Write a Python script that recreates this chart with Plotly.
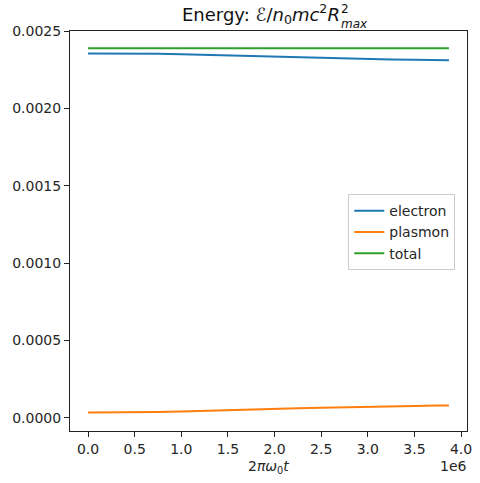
import plotly.graph_objects as go

# Time samples (2*pi*omega_0*t) and energy components
t = [0.0, 0.25e6, 0.5e6, 0.75e6, 1.0e6, 1.25e6, 1.5e6, 1.75e6, 2.0e6, 2.25e6,
     2.5e6, 2.75e6, 3.0e6, 3.25e6, 3.5e6, 3.75e6, 3.87e6]
electron = [0.002355, 0.002355, 0.002354, 0.002353, 0.002350, 0.002346, 0.002341,
            0.002337, 0.002333, 0.002330, 0.002326, 0.002322, 0.002319, 0.002316,
            0.002314, 0.002312, 0.002311]
plasmon = [0.000034, 0.000034, 0.000035, 0.000037, 0.000040, 0.000045, 0.000050,
           0.000054, 0.000058, 0.000062, 0.000065, 0.000069, 0.000072, 0.000075,
           0.000077, 0.000079, 0.000080]
total = [0.002388] * len(t)

x_ticks = [0.0, 0.5e6, 1.0e6, 1.5e6, 2.0e6, 2.5e6, 3.0e6, 3.5e6, 4.0e6]
x_tick_labels = ["0.0", "0.5", "1.0", "1.5", "2.0", "2.5", "3.0", "3.5", "4.0"]
y_ticks = [0.0, 0.0005, 0.0010, 0.0015, 0.0020, 0.0025]
y_tick_labels = ["0.0000", "0.0005", "0.0010", "0.0015", "0.0020", "0.0025"]

FONT = "DejaVu Sans"
AX = "#222222"
TXT = "#262626"

fig = go.Figure()
for name, y, color in [("electron", electron, "#1f77b4"),
                       ("plasmon", plasmon, "#ff7f0e"),
                       ("total", total, "#2ca02c")]:
    fig.add_trace(go.Scatter(x=t, y=y, mode="lines", name=name,
                             line=dict(color=color, width=2)))

axis_common = dict(showgrid=False, zeroline=False, showline=True, mirror=True,
                   linecolor=AX, linewidth=1, ticks="outside", ticklen=5,
                   tickwidth=1, tickcolor=AX,
                   tickfont=dict(family=FONT, size=14, color=TXT))

fig.update_xaxes(range=[-0.1935e6, 4.0635e6], tickvals=x_ticks,
                 ticktext=x_tick_labels, **axis_common)
fig.update_yaxes(range=[-0.0000853, 0.0025], tickvals=y_ticks,
                 ticktext=y_tick_labels, **axis_common)

annotations = [
    # title body
    dict(text="Energy: <i>ℰ</i>/<i>n</i><sub>0</sub><i>mc</i><sup>2</sup><i>R</i>",
         x=0.5, y=1.0, xref="paper", yref="paper", xanchor="center",
         yanchor="bottom", yshift=2, xshift=-8, showarrow=False,
         font=dict(family=FONT, size=18, color="#111111")),
    # stacked superscript / subscript on R
    dict(text="2", x=0.5, y=1.0, xref="paper", yref="paper",
         xanchor="left", yanchor="bottom", xshift=70, yshift=13,
         showarrow=False, font=dict(family=FONT, size=12, color="#111111")),
    dict(text="<i>max</i>", x=0.5, y=1.0, xref="paper", yref="paper",
         xanchor="left", yanchor="bottom", xshift=70, yshift=-2,
         showarrow=False, font=dict(family=FONT, size=12, color="#111111")),
    # x-axis label
    dict(text="2<i>π</i><i>ω</i><sub>0</sub><i>t</i>", x=0.5, y=0,
         xref="paper", yref="paper", xanchor="center", yanchor="top",
         yshift=-25, showarrow=False,
         font=dict(family=FONT, size=14, color=TXT)),
    # offset multiplier
    dict(text="1e6", x=1.0, y=0, xref="paper", yref="paper", xanchor="right",
         yanchor="top", yshift=-25, xshift=2, showarrow=False,
         font=dict(family=FONT, size=14, color=TXT)),
]

fig.update_layout(
    width=480, height=483,
    margin=dict(l=70, r=8, t=31, b=52),
    paper_bgcolor="white", plot_bgcolor="white",
    annotations=annotations,
    showlegend=True,
    legend=dict(x=0.701, y=0.592, xanchor="left", yanchor="top",
                bgcolor="rgba(255,255,255,0.8)", bordercolor="#cccccc",
                borderwidth=1, font=dict(family=FONT, size=14, color=TXT),
                itemwidth=30, tracegroupgap=2),
)

fig.write_html("out.html")
